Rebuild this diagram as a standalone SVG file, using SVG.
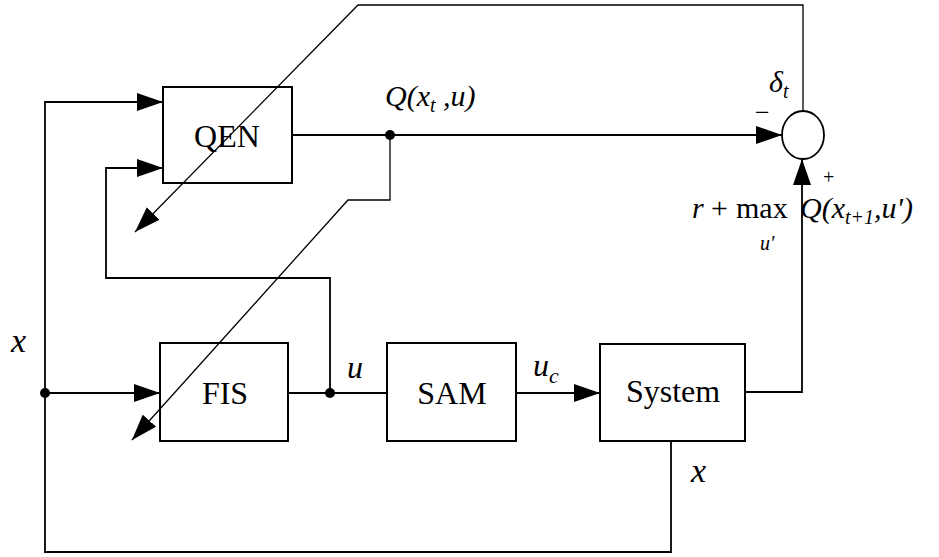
<svg xmlns="http://www.w3.org/2000/svg" width="939" height="557" viewBox="0 0 939 557">
<defs>
<style>
.box{fill:none;stroke:#000;stroke-width:2}
.ln{fill:none;stroke:#000;stroke-width:1.8}
.thin{fill:none;stroke:#000;stroke-width:1.3}
.dot{fill:#000;stroke:none}
</style>
<marker id="ah" markerUnits="userSpaceOnUse" markerWidth="27" markerHeight="18" refX="26" refY="9" orient="auto" viewBox="0 0 27 18">
<path d="M0,0 L26,9 L0,18 z" fill="#000"/>
</marker>
</defs>
<g id="connectors">
<path class="ln" d="M671,441 L671,552 L45,552 L45,102 L163,102" marker-end="url(#ah)"/>
<path class="ln" d="M45,393 L160,393" marker-end="url(#ah)"/>
<path class="ln" d="M288,393 L387,393"/>
<path class="ln" d="M330,393 L330,278 L106,278 L106,168 L163,168" marker-end="url(#ah)"/>
<path class="ln" d="M516,393 L600,393" marker-end="url(#ah)"/>
<path class="ln" d="M745,392 L802,392 L802,159" marker-end="url(#ah)"/>
<path class="ln" d="M292,135 L782,135" marker-end="url(#ah)"/>
<path class="thin" d="M390,135 L390,200 L348,200 L132,440" marker-end="url(#ah)"/>
<path class="thin" d="M803,111 L803,5 L358,5 L135,232" marker-end="url(#ah)"/>
<circle class="dot" cx="45" cy="393" r="5"/>
<circle class="dot" cx="330" cy="393" r="5"/>
<circle class="dot" cx="390" cy="135" r="5"/>
</g>
<g id="QEN">
<rect class="box" x="163" y="87" width="129" height="96"/>
<text x="227" y="147" font-family="Liberation Serif" font-size="32" text-anchor="middle">QEN</text>
</g>
<g id="FIS">
<rect class="box" x="160" y="343" width="128" height="98"/>
<text x="225" y="404" font-family="Liberation Serif" font-size="32" text-anchor="middle">FIS</text>
</g>
<g id="SAM">
<rect class="box" x="387" y="343" width="129" height="98"/>
<text x="452" y="404" font-family="Liberation Serif" font-size="32" text-anchor="middle">SAM</text>
</g>
<g id="System">
<rect class="box" x="600" y="344" width="145" height="97"/>
<text x="673" y="402" font-family="Liberation Serif" font-size="32" text-anchor="middle">System</text>
</g>
<g id="sum">
<ellipse fill="none" stroke="#000" stroke-width="1.8" cx="803" cy="135" rx="21" ry="24"/>
</g>
<g id="labels">
<text x="385" y="106" font-family="Liberation Serif" font-style="italic" font-size="30">Q(x<tspan font-size="20" dy="6">t</tspan><tspan dy="-6"> ,u)</tspan></text>
<text x="769" y="92" font-family="Liberation Serif" font-style="italic" font-size="30">δ<tspan font-size="20" dy="6">t</tspan></text>
<text x="755" y="121" font-family="Liberation Serif" font-size="26">−</text>
<text x="823" y="184" font-family="Liberation Serif" font-size="20">+</text>
<text x="692" y="218" font-family="Liberation Serif" font-style="italic" font-size="30">r</text>
<text x="711" y="218" font-family="Liberation Serif" font-size="30">+</text>
<text x="736" y="218" font-family="Liberation Serif" font-size="30">max</text>
<text x="800" y="218" font-family="Liberation Serif" font-style="italic" font-size="30">Q(x<tspan font-size="20" dy="6">t+1</tspan><tspan dy="-6">,u')</tspan></text>
<text x="760" y="250" font-family="Liberation Serif" font-style="italic" font-size="20">u'</text>
<text x="11" y="352" font-family="Liberation Serif" font-style="italic" font-size="34">x</text>
<text x="691" y="482" font-family="Liberation Serif" font-style="italic" font-size="34">x</text>
<text x="347" y="378" font-family="Liberation Serif" font-style="italic" font-size="32">u</text>
<text x="533" y="376" font-family="Liberation Serif" font-style="italic" font-size="32">u<tspan font-size="22" dy="7">c</tspan></text>
</g>
</svg>
